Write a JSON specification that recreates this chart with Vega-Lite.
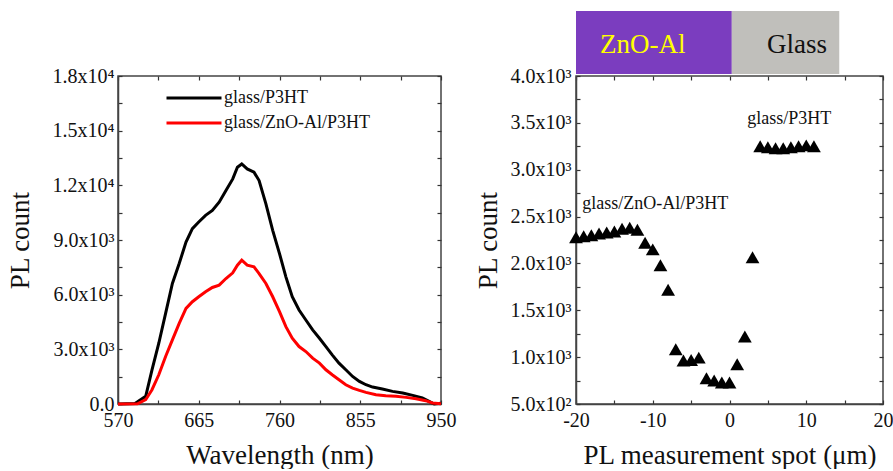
{
  "$schema": "https://vega.github.io/schema/vega-lite/v6.json",
  "padding": {"left": 5, "top": 10, "right": 0, "bottom": 0},
  "background": "white",
  "datasets": {
    "spec": [
      {"wl": 570, "count": 0, "series": "glass/P3HT"},
      {"wl": 590, "count": 30, "series": "glass/P3HT"},
      {"wl": 602.6, "count": 420, "series": "glass/P3HT"},
      {"wl": 610, "count": 1877, "series": "glass/P3HT"},
      {"wl": 618, "count": 3334, "series": "glass/P3HT"},
      {"wl": 626, "count": 4974, "series": "glass/P3HT"},
      {"wl": 634, "count": 6614, "series": "glass/P3HT"},
      {"wl": 642, "count": 7707, "series": "glass/P3HT"},
      {"wl": 650, "count": 8891, "series": "glass/P3HT"},
      {"wl": 657.5, "count": 9620, "series": "glass/P3HT"},
      {"wl": 665, "count": 9985, "series": "glass/P3HT"},
      {"wl": 673, "count": 10350, "series": "glass/P3HT"},
      {"wl": 681, "count": 10622, "series": "glass/P3HT"},
      {"wl": 689, "count": 11078, "series": "glass/P3HT"},
      {"wl": 697, "count": 11715, "series": "glass/P3HT"},
      {"wl": 705, "count": 12353, "series": "glass/P3HT"},
      {"wl": 710.5, "count": 12990, "series": "glass/P3HT"},
      {"wl": 715.6, "count": 13173, "series": "glass/P3HT"},
      {"wl": 722, "count": 12900, "series": "glass/P3HT"},
      {"wl": 730, "count": 12718, "series": "glass/P3HT"},
      {"wl": 736, "count": 12262, "series": "glass/P3HT"},
      {"wl": 744, "count": 10987, "series": "glass/P3HT"},
      {"wl": 752, "count": 9529, "series": "glass/P3HT"},
      {"wl": 760, "count": 8254, "series": "glass/P3HT"},
      {"wl": 767.5, "count": 6978, "series": "glass/P3HT"},
      {"wl": 775, "count": 5885, "series": "glass/P3HT"},
      {"wl": 783, "count": 5156, "series": "glass/P3HT"},
      {"wl": 791, "count": 4610, "series": "glass/P3HT"},
      {"wl": 799, "count": 4063, "series": "glass/P3HT"},
      {"wl": 807, "count": 3608, "series": "glass/P3HT"},
      {"wl": 814.6, "count": 3152, "series": "glass/P3HT"},
      {"wl": 822, "count": 2697, "series": "glass/P3HT"},
      {"wl": 830, "count": 2241, "series": "glass/P3HT"},
      {"wl": 838, "count": 1877, "series": "glass/P3HT"},
      {"wl": 846, "count": 1512, "series": "glass/P3HT"},
      {"wl": 854, "count": 1239, "series": "glass/P3HT"},
      {"wl": 861.7, "count": 1057, "series": "glass/P3HT"},
      {"wl": 869.5, "count": 929, "series": "glass/P3HT"},
      {"wl": 881, "count": 820, "series": "glass/P3HT"},
      {"wl": 893, "count": 692, "series": "glass/P3HT"},
      {"wl": 905, "count": 601, "series": "glass/P3HT"},
      {"wl": 916.7, "count": 474, "series": "glass/P3HT"},
      {"wl": 928, "count": 328, "series": "glass/P3HT"},
      {"wl": 936, "count": 146, "series": "glass/P3HT"},
      {"wl": 942, "count": 0, "series": "glass/P3HT"},
      {"wl": 950, "count": 40, "series": "glass/P3HT"},
      {"wl": 570, "count": 0, "series": "glass/ZnO-Al/P3HT"},
      {"wl": 593, "count": 10, "series": "glass/ZnO-Al/P3HT"},
      {"wl": 602.6, "count": 237, "series": "glass/ZnO-Al/P3HT"},
      {"wl": 610, "count": 783, "series": "glass/ZnO-Al/P3HT"},
      {"wl": 618, "count": 1603, "series": "glass/ZnO-Al/P3HT"},
      {"wl": 626, "count": 2605, "series": "glass/ZnO-Al/P3HT"},
      {"wl": 634, "count": 3516, "series": "glass/ZnO-Al/P3HT"},
      {"wl": 642, "count": 4427, "series": "glass/ZnO-Al/P3HT"},
      {"wl": 650, "count": 5247, "series": "glass/ZnO-Al/P3HT"},
      {"wl": 657.5, "count": 5612, "series": "glass/ZnO-Al/P3HT"},
      {"wl": 665, "count": 5885, "series": "glass/ZnO-Al/P3HT"},
      {"wl": 673, "count": 6158, "series": "glass/ZnO-Al/P3HT"},
      {"wl": 681, "count": 6395, "series": "glass/ZnO-Al/P3HT"},
      {"wl": 689, "count": 6523, "series": "glass/ZnO-Al/P3HT"},
      {"wl": 697, "count": 6887, "series": "glass/ZnO-Al/P3HT"},
      {"wl": 705, "count": 7197, "series": "glass/ZnO-Al/P3HT"},
      {"wl": 710.5, "count": 7616, "series": "glass/ZnO-Al/P3HT"},
      {"wl": 715.6, "count": 7890, "series": "glass/ZnO-Al/P3HT"},
      {"wl": 722, "count": 7616, "series": "glass/ZnO-Al/P3HT"},
      {"wl": 730, "count": 7525, "series": "glass/ZnO-Al/P3HT"},
      {"wl": 736, "count": 7160, "series": "glass/ZnO-Al/P3HT"},
      {"wl": 744, "count": 6614, "series": "glass/ZnO-Al/P3HT"},
      {"wl": 752, "count": 5885, "series": "glass/ZnO-Al/P3HT"},
      {"wl": 760, "count": 5065, "series": "glass/ZnO-Al/P3HT"},
      {"wl": 767.5, "count": 4245, "series": "glass/ZnO-Al/P3HT"},
      {"wl": 775, "count": 3608, "series": "glass/ZnO-Al/P3HT"},
      {"wl": 783, "count": 3152, "series": "glass/ZnO-Al/P3HT"},
      {"wl": 791, "count": 2879, "series": "glass/ZnO-Al/P3HT"},
      {"wl": 799, "count": 2514, "series": "glass/ZnO-Al/P3HT"},
      {"wl": 807, "count": 2241, "series": "glass/ZnO-Al/P3HT"},
      {"wl": 814.6, "count": 1877, "series": "glass/ZnO-Al/P3HT"},
      {"wl": 822, "count": 1603, "series": "glass/ZnO-Al/P3HT"},
      {"wl": 830, "count": 1330, "series": "glass/ZnO-Al/P3HT"},
      {"wl": 838, "count": 1057, "series": "glass/ZnO-Al/P3HT"},
      {"wl": 846, "count": 875, "series": "glass/ZnO-Al/P3HT"},
      {"wl": 854, "count": 747, "series": "glass/ZnO-Al/P3HT"},
      {"wl": 861.7, "count": 638, "series": "glass/ZnO-Al/P3HT"},
      {"wl": 873.5, "count": 510, "series": "glass/ZnO-Al/P3HT"},
      {"wl": 885, "count": 455, "series": "glass/ZnO-Al/P3HT"},
      {"wl": 897, "count": 419, "series": "glass/ZnO-Al/P3HT"},
      {"wl": 909, "count": 364, "series": "glass/ZnO-Al/P3HT"},
      {"wl": 920.6, "count": 292, "series": "glass/ZnO-Al/P3HT"},
      {"wl": 932, "count": 182, "series": "glass/ZnO-Al/P3HT"},
      {"wl": 940, "count": 55, "series": "glass/ZnO-Al/P3HT"},
      {"wl": 950, "count": 20, "series": "glass/ZnO-Al/P3HT"}
    ],
    "pts": [
      {"x": -20, "pl": 2280}, {"x": -19, "pl": 2290}, {"x": -18, "pl": 2300},
      {"x": -17, "pl": 2320}, {"x": -16, "pl": 2330}, {"x": -15, "pl": 2340},
      {"x": -14, "pl": 2370}, {"x": -13, "pl": 2380}, {"x": -12, "pl": 2360},
      {"x": -11, "pl": 2220}, {"x": -10, "pl": 2150}, {"x": -9, "pl": 1980},
      {"x": -8, "pl": 1720}, {"x": -7, "pl": 1085}, {"x": -6, "pl": 965},
      {"x": -5, "pl": 970}, {"x": -4, "pl": 995}, {"x": -3, "pl": 775},
      {"x": -2, "pl": 750}, {"x": -1, "pl": 730}, {"x": 0, "pl": 730},
      {"x": 1, "pl": 925}, {"x": 2, "pl": 1220}, {"x": 3, "pl": 2065},
      {"x": 4, "pl": 3250}, {"x": 5, "pl": 3240}, {"x": 6, "pl": 3230},
      {"x": 7, "pl": 3230}, {"x": 8, "pl": 3240}, {"x": 9, "pl": 3250},
      {"x": 10, "pl": 3260}, {"x": 11, "pl": 3250}
    ],
    "bar": [
      {"x0": -20, "x1": 0.3, "y0": 4021, "y1": 4694, "region": "ZnO-Al"},
      {"x0": 0.3, "x1": 14.3, "y0": 4021, "y1": 4694, "region": "Glass"}
    ],
    "barText": [
      {"x": -11.3, "y": 4330, "label": "ZnO-Al"},
      {"x": 8.8, "y": 4330, "label": "Glass"}
    ],
    "notes": [
      {"x": -19.2, "y": 2634, "label": "glass/ZnO-Al/P3HT"},
      {"x": 2.3, "y": 3541, "label": "glass/P3HT"}
    ]
  },
  "hconcat": [
    {
      "width": 323,
      "height": 328,
      "data": {"name": "spec"},
      "layer": [
        {
          "transform": [{"filter": "datum.series == 'glass/P3HT'"}],
          "mark": {"type": "line", "strokeWidth": 3},
          "encoding": {
            "x": {"field": "wl", "type": "quantitative",
              "scale": {"domain": [570, 950], "nice": false, "zero": false},
              "axis": {"orient": "bottom", "title": "Wavelength (nm)",
                "values": [570, 617.5, 665, 712.5, 760, 807.5, 855, 902.5, 950],
                "labelExpr": "datum.value % 95 == 0 ? format(datum.value, 'd') : ''",
                "tickSize": -4,
                "labelPadding": 10, "titlePadding": 12}},
            "y": {"field": "count", "type": "quantitative",
              "scale": {"domain": [0, 18000], "nice": false},
              "axis": {"orient": "left", "title": "PL count",
                "values": [0, 1500, 3000, 4500, 6000, 7500, 9000, 10500, 12000, 13500, 15000, 16500, 18000],
                "labelExpr": "datum.value % 3000 != 0 ? '' : datum.value == 0 ? '0.0' : datum.value < 10000 ? format(datum.value/1000, '.1f') + 'x10³' : format(datum.value/10000, '.1f') + 'x10⁴'",
                "tickSize": -4,
                "labelPadding": 8, "titlePadding": 18}},
            "color": {"field": "series", "type": "nominal",
              "scale": {"domain": ["glass/P3HT", "glass/ZnO-Al/P3HT"], "range": ["#000000", "#ff0000"]},
              "legend": {"title": null, "orient": "none", "legendX": 67, "legendY": 13,
                "symbolType": "M-5,0H5", "symbolSize": 121, "symbolStrokeWidth": 3,
                "labelFont": "Liberation Serif", "labelFontSize": 18, "labelColor": "#111",
                "labelOffset": 21, "rowPadding": 7}}
          }
        },
        {
          "transform": [{"filter": "datum.series == 'glass/ZnO-Al/P3HT'"}],
          "mark": {"type": "line", "strokeWidth": 3},
          "encoding": {
            "x": {"field": "wl", "type": "quantitative",
              "scale": {"domain": [570, 950], "nice": false, "zero": false},
              "axis": {"orient": "top", "title": null, "labels": false, "domain": false,
                "values": [570, 617.5, 665, 712.5, 760, 807.5, 855, 902.5, 950],
                "tickSize": -4}},
            "y": {"field": "count", "type": "quantitative",
              "scale": {"domain": [0, 18000], "nice": false},
              "axis": {"orient": "right", "title": null, "labels": false, "domain": false,
                "values": [0, 1500, 3000, 4500, 6000, 7500, 9000, 10500, 12000, 13500, 15000, 16500, 18000],
                "tickSize": -4}},
            "color": {"field": "series", "type": "nominal",
              "scale": {"domain": ["glass/P3HT", "glass/ZnO-Al/P3HT"], "range": ["#000000", "#ff0000"]}}
          }
        }
      ],
      "resolve": {"axis": {"x": "independent", "y": "independent"}}
    },
    {
      "width": 307,
      "height": 328,
      "layer": [
        {
          "data": {"name": "bar"},
          "mark": {"type": "rect"},
          "encoding": {
            "x": {"field": "x0", "type": "quantitative", "scale": {"domain": [-20, 20], "nice": false, "zero": false}, "axis": null},
            "x2": {"field": "x1"},
            "y": {"field": "y0", "type": "quantitative", "scale": {"domain": [500, 4000], "nice": false, "zero": false}, "axis": null},
            "y2": {"field": "y1"},
            "color": {"field": "region", "type": "nominal",
              "scale": {"domain": ["ZnO-Al", "Glass"], "range": ["#7b3dbf", "#c0bfbb"]}, "legend": null}
          }
        },
        {
          "data": {"name": "barText"},
          "mark": {"type": "text", "font": "Liberation Serif", "fontSize": 27, "align": "center", "baseline": "middle"},
          "encoding": {
            "x": {"field": "x", "type": "quantitative", "scale": {"domain": [-20, 20], "nice": false, "zero": false}, "axis": null},
            "y": {"field": "y", "type": "quantitative", "scale": {"domain": [500, 4000], "nice": false, "zero": false}, "axis": null},
            "text": {"field": "label"},
            "color": {"condition": {"test": "datum.label == 'ZnO-Al'", "value": "#ffff00"}, "value": "#111111"}
          }
        },
        {
          "data": {"name": "pts"},
          "mark": {"type": "point", "shape": "triangle-up", "filled": true, "size": 190, "color": "#000000", "opacity": 1},
          "encoding": {
            "x": {"field": "x", "type": "quantitative",
              "scale": {"domain": [-20, 20], "nice": false, "zero": false},
              "axis": {"orient": "bottom", "title": "PL measurement spot (μm)",
                "values": [-20, -15, -10, -5, 0, 5, 10, 15, 20],
                "labelExpr": "datum.value % 10 != 0 ? '' : '' + datum.value",
                "tickSize": -4,
                "labelPadding": 10, "titlePadding": 12}},
            "y": {"field": "pl", "type": "quantitative",
              "scale": {"domain": [500, 4000], "nice": false, "zero": false},
              "axis": {"orient": "left", "title": "PL count",
                "values": [500, 750, 1000, 1250, 1500, 1750, 2000, 2250, 2500, 2750, 3000, 3250, 3500, 3750, 4000],
                "labelExpr": "datum.value % 500 != 0 ? '' : datum.value < 1000 ? format(datum.value/100, '.1f') + 'x10²' : format(datum.value/1000, '.1f') + 'x10³'",
                "tickSize": -4,
                "labelPadding": 9, "titlePadding": 8}}
          }
        },
        {
          "data": {"name": "notes"},
          "mark": {"type": "text", "font": "Liberation Serif", "fontSize": 18, "align": "left", "baseline": "middle", "color": "#111111"},
          "encoding": {
            "x": {"field": "x", "type": "quantitative",
              "scale": {"domain": [-20, 20], "nice": false, "zero": false},
              "axis": {"orient": "top", "title": null, "labels": false, "domain": false,
                "values": [-20, -15, -10, -5, 0, 5, 10, 15, 20],
                "tickSize": -4}},
            "y": {"field": "y", "type": "quantitative",
              "scale": {"domain": [500, 4000], "nice": false, "zero": false},
              "axis": {"orient": "right", "title": null, "labels": false, "domain": false,
                "values": [500, 750, 1000, 1250, 1500, 1750, 2000, 2250, 2500, 2750, 3000, 3250, 3500, 3750, 4000],
                "tickSize": -4}},
            "text": {"field": "label"}
          }
        }
      ],
      "resolve": {"axis": {"x": "independent", "y": "independent"}}
    }
  ],
  "resolve": {"scale": {"color": "independent"}},
  "spacing": 135,
  "bounds": "flush",
  "config": {
    "font": "Liberation Serif",
    "view": {"stroke": "#444444", "strokeWidth": 1.5},
    "axis": {
      "labelFont": "Liberation Serif", "labelFontSize": 20, "labelColor": "#111111",
      "titleFont": "Liberation Serif", "titleFontSize": 27, "titleFontWeight": "normal", "titleColor": "#111111",
      "grid": false, "domainColor": "#444444", "domainWidth": 1.5,
      "tickColor": "#333333", "tickWidth": 1.2,
      "labelFlush": false, "labelOverlap": false
    }
  }
}
